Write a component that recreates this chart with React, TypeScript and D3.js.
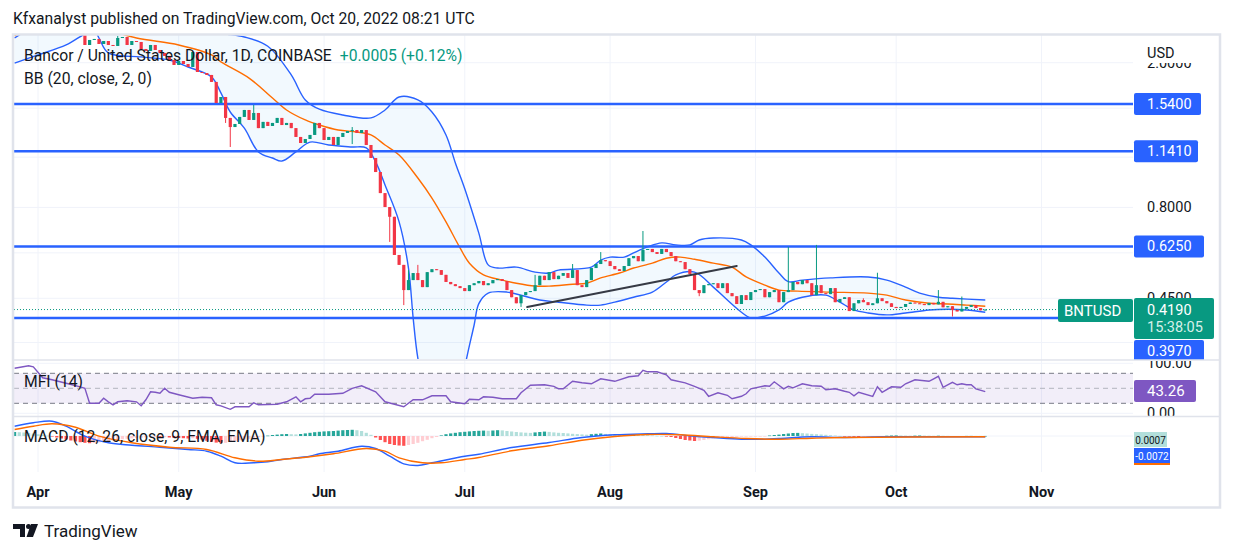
import React from 'react';
import * as d3 from 'd3';

// day numbers are counted from Apr 1 2022 (day 0)
const APR1 = Date.UTC(2022, 3, 1);
const DAY = 86400000;
const FIRST_DAY = -5;

// daily closes from Mar 27 to Oct 20
const closes = [
  2.52, 2.58, 2.61, 2.57, 2.64, 2.68, 2.62, 2.59, 2.55, 2.60, 2.54, 2.49, 2.51, 2.46, 2.42,
  2.238, 2.310, 2.325, 2.252, 2.295, 2.238, 2.224, 2.339, 2.354, 2.238,
  2.295, 2.281, 2.182, 2.155, 2.238, 2.168, 2.128, 2.088, 2.035, 1.972,
  2.022, 1.984, 1.947, 2.141, 1.886, 1.874, 1.851, 1.771, 1.550, 1.610,
  1.410, 1.331, 1.357, 1.419, 1.483, 1.392, 1.455, 1.322, 1.375, 1.340,
  1.366, 1.410, 1.348, 1.366, 1.322, 1.250, 1.203, 1.234, 1.266, 1.366,
  1.322, 1.226, 1.250, 1.188, 1.250, 1.282, 1.298, 1.306, 1.282, 1.306,
  1.188, 1.094, 1.001, 0.876, 0.802, 0.754, 0.592, 0.556, 0.474, 0.505,
  0.528, 0.505, 0.483, 0.531, 0.541, 0.538, 0.522, 0.499, 0.492, 0.486,
  0.480, 0.471, 0.489, 0.495, 0.502, 0.489, 0.495, 0.505, 0.508, 0.502,
  0.474, 0.453, 0.436, 0.459, 0.468, 0.471, 0.489, 0.519, 0.505, 0.531,
  0.508, 0.519, 0.528, 0.512, 0.538, 0.489, 0.483, 0.505, 0.545, 0.559,
  0.573, 0.569, 0.552, 0.541, 0.535, 0.552, 0.580, 0.588, 0.569, 0.611,
  0.615, 0.603, 0.596, 0.615, 0.603, 0.588, 0.569, 0.566, 0.541, 0.525,
  0.474, 0.465, 0.489, 0.492, 0.495, 0.480, 0.495, 0.465, 0.456, 0.434,
  0.459, 0.445, 0.468, 0.474, 0.477, 0.453, 0.468, 0.474, 0.439, 0.468,
  0.474, 0.499, 0.492, 0.505, 0.495, 0.459, 0.489, 0.465, 0.462, 0.480,
  0.439, 0.448, 0.453, 0.415, 0.436, 0.445, 0.439, 0.431, 0.436, 0.450,
  0.442, 0.436, 0.426, 0.423, 0.426, 0.434, 0.438, 0.436, 0.434, 0.431,
  0.437, 0.433, 0.440, 0.425, 0.428, 0.418, 0.414, 0.421, 0.426, 0.431,
  0.423, 0.417, 0.419,
];

// [day, high, low] for the candles with visible wicks
const wicks: [number, number | null, number | null][] = [
  [17, 2.37, null], [40, null, 1.366], [41, null, 1.173], [46, 1.531, null],
  [67, 1.331, 1.195], [75, null, 0.643], [78, null, 0.431], [79, 0.538, null],
  [81, 0.556, null], [103, null, 0.426], [106, 0.522, null], [114, 0.559, null],
  [120, 0.603, null], [129, 0.689, null], [141, null, 0.456], [160, 0.623, null],
  [166, 0.631, null], [176, 0.450, null], [179, 0.529, null], [192, 0.474, null],
  [195, null, 0.401], [197, 0.455, null],
];

const bbUpper: [number, number][] = [
  [-5, 2.339], [-2, 2.46], [5, 2.59], [24, 2.59], [34, 2.49], [39, 2.41], [44, 2.354],
  [49, 2.22], [54, 1.851], [57, 1.58], [60, 1.49], [65, 1.437], [71, 1.41], [74, 1.483],
  [77, 1.61], [81, 1.58], [84, 1.464], [87, 1.266], [89, 1.06], [91, 0.9], [94, 0.68],
  [96, 0.556], [98, 0.545], [102, 0.548], [106, 0.531], [109, 0.528], [111, 0.538],
  [118, 0.548], [120, 0.573], [122, 0.584], [125, 0.584], [127, 0.6], [130, 0.623],
  [133, 0.639], [136, 0.631], [139, 0.631], [141, 0.651], [144, 0.659], [150, 0.651],
  [152, 0.631], [155, 0.584], [158, 0.528], [160, 0.5], [163, 0.505], [169, 0.512],
  [177, 0.515], [181, 0.505], [185, 0.483], [188, 0.465], [192, 0.453], [195, 0.45],
  [202, 0.445],
];

const bbBasis: [number, number][] = [
  [-5, 2.37], [-3, 2.44], [5, 2.52], [13, 2.49], [21, 2.339], [30, 2.238], [37, 2.101],
  [39, 2.011], [45, 1.815], [50, 1.6], [53, 1.483], [57, 1.392], [60, 1.348], [64, 1.306],
  [68, 1.29], [71, 1.266], [74, 1.188], [77, 1.115], [81, 0.964], [84, 0.849], [87, 0.73],
  [90, 0.619], [92, 0.562], [95, 0.522], [99, 0.505], [102, 0.495], [106, 0.486],
  [109, 0.486], [114, 0.492], [117, 0.495], [120, 0.512], [124, 0.528], [127, 0.545],
  [131, 0.562], [134, 0.58], [137, 0.584], [140, 0.576], [144, 0.562], [148, 0.548],
  [151, 0.515], [155, 0.489], [158, 0.474], [162, 0.471], [169, 0.468], [177, 0.465],
  [181, 0.459], [185, 0.445], [190, 0.436], [194, 0.434], [198, 0.431], [202, 0.428],
];

const bbLower: [number, number][] = [
  [-5, 1.996], [0, 2.101], [6, 2.238], [10, 2.4], [12, 2.46], [13, 2.339], [15, 2.128],
  [22, 2.075], [28, 2.035], [32, 1.947], [37, 1.828], [39, 1.652], [41, 1.464], [44, 1.322],
  [47, 1.137], [50, 1.094], [52, 1.073], [55, 1.137], [58, 1.21], [62, 1.188], [67, 1.173],
  [70, 1.166], [72, 1.067], [74, 0.922], [77, 0.73], [79, 0.545], [80, 0.397], [81, 0.308],
  [83, 0.236], [87, 0.208], [90, 0.236], [91, 0.29], [93, 0.38], [94, 0.435], [96, 0.465],
  [100, 0.468], [107, 0.445], [111, 0.439], [117, 0.431], [120, 0.431], [123, 0.439],
  [127, 0.453], [131, 0.468], [134, 0.499], [136, 0.522], [140, 0.531], [144, 0.483],
  [147, 0.445], [150, 0.412], [152, 0.397], [155, 0.402], [158, 0.418], [160, 0.439],
  [163, 0.453], [168, 0.459], [171, 0.439], [174, 0.418], [177, 0.41], [181, 0.405],
  [185, 0.41], [190, 0.418], [194, 0.42], [198, 0.418], [202, 0.412],
];

const levels = [1.54, 1.141, 0.625, 0.397];
const priceTicks = [2, 1.5, 1.1, 0.8, 0.6, 0.45, 0.34];
// tick labels that the level boxes do not hide
const priceTickLabels = [2, 0.8, 0.45];
const lastPrice = 0.419;
const trendLine: [number, number][] = [[104.3, 0.426], [149, 0.552]];

const mfi: [number, number][] = [
  [-5, 90], [-2, 95], [-1, 93], [1, 71], [3, 67], [6, 60], [9, 53], [10, 50], [11, 20],
  [13, 20], [14, 30], [15, 23], [16, 17], [17, 23], [19, 25], [21, 23], [22, 15], [23, 27],
  [24, 43], [25, 42], [26, 40], [27, 50], [28, 42], [30, 37], [33, 30], [35, 32], [37, 31],
  [38, 17], [39, 15], [41, 8], [42, 13], [45, 13], [46, 21], [47, 17], [51, 18], [53, 23],
  [55, 33], [56, 23], [57, 29], [58, 30], [59, 38], [62, 38], [65, 40], [67, 50], [69, 55],
  [72, 43], [74, 23], [78, 13], [80, 27], [82, 27], [84, 35], [87, 35], [88, 23], [91, 19],
  [92, 28], [94, 27], [95, 33], [97, 32], [99, 29], [102, 29], [103, 41], [105, 56],
  [108, 57], [110, 54], [111, 49], [112, 49], [114, 64], [116, 61], [118, 59], [120, 69],
  [123, 64], [126, 73], [128, 75], [129, 86], [130, 83], [132, 83], [134, 77], [135, 67],
  [138, 61], [140, 54], [142, 46], [143, 34], [145, 41], [147, 36], [148, 29], [150, 34],
  [151, 39], [152, 49], [155, 55], [156, 54], [157, 63], [159, 49], [160, 54], [161, 51],
  [163, 59], [165, 55], [167, 54], [168, 47], [170, 49], [172, 44], [173, 42], [174, 35],
  [175, 42], [178, 34], [179, 53], [180, 42], [182, 53], [184, 52], [185, 59], [187, 67],
  [190, 64], [191, 69], [192, 74], [193, 52], [195, 62], [196, 57], [197, 59], [198, 57],
  [199, 57], [200, 49], [202, 43.26],
];
const mfiLevels = [80, 50, 20];

const macdLine: [number, number][] = [
  [-5, 0.098], [-1, 0.132], [3, 0.148], [6, 0.098], [10, -0.002], [15, -0.068], [20, -0.092],
  [26, -0.112], [32, -0.135], [36, -0.152], [39, -0.202], [42, -0.268], [46, -0.268],
  [49, -0.258], [52, -0.235], [58, -0.202], [60, -0.178], [64, -0.152], [69, -0.102],
  [72, -0.125], [75, -0.202], [78, -0.278], [81, -0.295], [84, -0.268], [91, -0.202],
  [94, -0.182], [101, -0.115], [109, -0.065], [116, -0.015], [123, 0.012], [130, 0.022],
  [134, 0.025], [140, -0.002], [144, -0.015], [150, -0.032], [155, -0.032], [158, -0.025],
  [165, -0.008], [172, -0.015], [180, -0.008], [187, -0.008], [202, -0.0072],
];

const signalLine: [number, number][] = [
  [-5, 0.065], [-1, 0.098], [3, 0.122], [8, 0.088], [13, -0.002], [20, -0.068], [28, -0.112],
  [36, -0.135], [42, -0.218], [47, -0.252], [52, -0.235], [58, -0.208], [63, -0.178],
  [70, -0.125], [74, -0.152], [77, -0.218], [82, -0.268], [86, -0.268], [91, -0.235],
  [94, -0.215], [101, -0.148], [109, -0.098], [116, -0.042], [123, -0.005], [130, 0.015],
  [137, 0.012], [144, -0.008], [151, -0.025], [158, -0.032], [165, -0.022], [172, -0.015],
  [202, -0.0079],
];

// daily histogram from Mar 27
const macdHist = [
  0.040, 0.038, 0.035, 0.030, 0.024, 0.018, 0.010, 0.003, -0.006, -0.015,
  -0.025, -0.035, -0.045, -0.055, -0.062, -0.068, -0.072, -0.070, -0.064, -0.058,
  -0.050, -0.044, -0.038, -0.032, -0.028, -0.024, -0.020, -0.018, -0.015, -0.013,
  -0.012, -0.014, -0.012, -0.015, -0.018, -0.020, -0.022, -0.025, -0.022, -0.028,
  -0.035, -0.048, -0.058, -0.066, -0.072, -0.068, -0.060, -0.052, -0.044, -0.036,
  -0.028, -0.020, -0.012, -0.005, 0.004, 0.010, 0.014, 0.018, 0.020, 0.018,
  0.016, 0.020, 0.026, 0.032, 0.038, 0.042, 0.046, 0.048, 0.050, 0.054,
  0.058, 0.060, 0.062, 0.058, 0.050, 0.032, 0.012, -0.015, -0.040, -0.062,
  -0.080, -0.090, -0.095, -0.098, -0.090, -0.080, -0.068, -0.052, -0.038, -0.022,
  -0.010, 0.006, 0.018, 0.026, 0.032, 0.038, 0.042, 0.046, 0.050, 0.052,
  0.054, 0.052, 0.055, 0.058, 0.056, 0.050, 0.045, 0.040, 0.036, 0.033,
  0.031, 0.036, 0.040, 0.044, 0.041, 0.036, 0.032, 0.030, 0.026, 0.022,
  0.019, 0.016, 0.013, 0.018, 0.022, 0.025, 0.021, 0.018, 0.015, 0.012,
  0.010, 0.012, 0.014, 0.012, 0.010, 0.008, 0.005, 0.002, 0.000, -0.004,
  -0.010, -0.020, -0.030, -0.040, -0.045, -0.050, -0.046, -0.040, -0.032, -0.025,
  -0.020, -0.017, -0.014, -0.010, -0.008, -0.006, -0.005, -0.004, -0.003, -0.002,
  -0.001, 0.005, 0.010, 0.014, 0.020, 0.025, 0.030, 0.031, 0.028, 0.025,
  0.021, 0.018, 0.015, 0.012, 0.008, 0.005, 0.001, -0.003, -0.005, -0.008,
  -0.010, -0.008, -0.006, -0.004, -0.002, 0.000, 0.003, 0.005, 0.006, 0.005,
  0.004, 0.003, 0.004, 0.005, 0.004, 0.003, 0.002, 0.003, 0.002, 0.001,
  0.000, -0.001, 0.000, 0.001, 0.001, 0.0008, 0.0007, 0.0007,
];

const FONT = "Roboto, 'Noto Sans', sans-serif";
const UP = '#089981';
const DOWN = '#f23645';
const BLUE = '#2962ff';
const GRID = '#f0f3fa';
const BORDER = '#e0e3eb';
const TEXT = '#131722';

const W = 1233;
const H = 554;
const plotL = 14;
const plotR = 1133;
const mainT = 35;
const mainB = 359;
const mfiT = 361;
const mfiB = 416;
const macdT = 417;
const macdB = 472;
const axisX = 1147;

const dayDate = (d: number) => new Date(APR1 + d * DAY);

const App: React.FC = () => {
  const x = d3.scaleUtc()
    .domain([dayDate(-5.12), dayDate(233.5)])
    .range([plotL, plotR]);
  const y = d3.scaleLog().domain([0.3083, 2.384]).range([358, 35]);
  const yMfi = d3.scaleLinear().domain([0, 100]).range([413.3, 363.3]);
  const yMacd = d3.scaleLinear().domain([-0.34, 0.2]).range([470, 416]);

  const priceLine = d3.line<[number, number]>()
    .x(d => x(dayDate(d[0])))
    .y(d => y(d[1]))
    .curve(d3.curveCatmullRom.alpha(0.5));
  const mfiPath = d3.line<[number, number]>()
    .x(d => x(dayDate(d[0])))
    .y(d => yMfi(d[1]))
    .curve(d3.curveLinear);
  const macdPath = d3.line<[number, number]>()
    .x(d => x(dayDate(d[0])))
    .y(d => yMacd(d[1]))
    .curve(d3.curveCatmullRom.alpha(0.5));

  const bandFill = `${priceLine(bbUpper)}L${(priceLine([...bbLower].reverse()) || '').slice(1)}Z`;

  const wickMap = new Map(wicks.map(w => [w[0], w]));
  const candles = closes.map((c, i) => {
    const day = FIRST_DAY + i;
    const o = i > 0 ? closes[i - 1] : c;
    const w = wickMap.get(day);
    const hi = w && w[1] != null ? w[1] : Math.max(o, c);
    const lo = w && w[2] != null ? w[2] : Math.min(o, c);
    return { day, o, c, hi, lo };
  });

  const months = d3.utcMonth.range(new Date(Date.UTC(2022, 3, 1)), new Date(Date.UTC(2022, 10, 2)));
  const fmtMonth = d3.utcFormat('%b');

  const boxLabel = (val: string, yc: number, w: number, fill: string) => (
    <g key={val}>
      <rect x={plotR + 1} y={yc - 11} width={w} height={22} rx={2} fill={fill} />
      <text x={axisX} y={yc + 5} fill="#fff" fontSize={14.5}>{val}</text>
    </g>
  );

  return (
    <svg
      width={W}
      height={H}
      style={{ position: 'absolute', left: 0, top: 0, background: '#fff' }}
      fontFamily={FONT}
    >
      <defs>
        <clipPath id="clipMain"><rect x={plotL} y={mainT} width={plotR - plotL} height={mainB - mainT} /></clipPath>
        <clipPath id="clipMfi"><rect x={plotL} y={mfiT} width={W - plotL} height={mfiB - mfiT} /></clipPath>
        <clipPath id="clipMacd"><rect x={plotL} y={macdT} width={plotR - plotL} height={macdB - macdT} /></clipPath>
        <clipPath id="clipAxis"><rect x={plotR} y={mainT} width={90} height={mainB + 1 - mainT} /></clipPath>
      </defs>
      <rect width={W} height={H} fill="#fff" />

      <text x={13} y={24} fontSize={15.7} fill={TEXT}>
        Kfxanalyst published on TradingView.com, Oct 20, 2022 08:21 UTC
      </text>

      {/* grid */}
      {months.map(m => (
        <line key={+m} x1={x(m)} x2={x(m)} y1={mainT} y2={macdB} stroke={GRID} strokeWidth={1} />
      ))}
      {priceTicks.map(p => (
        <line key={p} x1={plotL} x2={plotR} y1={y(p)} y2={y(p)} stroke={GRID} strokeWidth={1} />
      ))}
      <line x1={plotL} x2={plotR} y1={yMfi(100)} y2={yMfi(100)} stroke={GRID} />
      <line x1={plotL} x2={plotR} y1={yMfi(0)} y2={yMfi(0)} stroke={GRID} />
      <line x1={plotL} x2={plotR} y1={yMacd(0)} y2={yMacd(0)} stroke={GRID} />

      {/* main pane */}
      <g clipPath="url(#clipMain)">
        <path d={bandFill} fill="rgba(33,150,243,0.06)" stroke="none" />
        <path d={priceLine(bbUpper) || ''} fill="none" stroke={BLUE} strokeWidth={1.4} />
        <path d={priceLine(bbLower) || ''} fill="none" stroke={BLUE} strokeWidth={1.4} />
        <path d={priceLine(bbBasis) || ''} fill="none" stroke="#ff6d00" strokeWidth={1.4} />
        {levels.map(p => (
          <line key={p} x1={plotL} x2={plotR} y1={y(p)} y2={y(p)} stroke={BLUE} strokeWidth={2.5} />
        ))}
        <line x1={plotL} x2={1057} y1={y(lastPrice)} y2={y(lastPrice)} stroke={UP} strokeWidth={1} strokeDasharray="1 2" />
        {candles.map(k => {
          const cx = x(dayDate(k.day));
          const col = k.c >= k.o ? UP : DOWN;
          const top = y(Math.max(k.o, k.c));
          const bot = y(Math.min(k.o, k.c));
          return (
            <g key={k.day}>
              <line x1={cx} x2={cx} y1={y(k.hi)} y2={y(k.lo)} stroke={col} strokeWidth={1} />
              <rect x={cx - 1.6} y={top} width={3.2} height={Math.max(1, bot - top)} fill={col} />
            </g>
          );
        })}
        <line
          x1={x(dayDate(trendLine[0][0]))} y1={y(trendLine[0][1])}
          x2={x(dayDate(trendLine[1][0]))} y2={y(trendLine[1][1])}
          stroke="#363a45" strokeWidth={2} strokeLinecap="round"
        />
      </g>
      <text x={24} y={61} fontSize={15.7} fill={TEXT}>
        Bancor / United States Dollar, 1D, COINBASE
        <tspan dx={8} fill={UP}>+0.0005 (+0.12%)</tspan>
      </text>
      <text x={24} y={84} fontSize={15.7} fill={TEXT}>BB (20, close, 2, 0)</text>

      {/* MFI pane */}
      <g clipPath="url(#clipMfi)">
        <rect x={plotL} y={yMfi(80)} width={plotR - plotL} height={yMfi(20) - yMfi(80)} fill="rgba(126,87,194,0.1)" />
        {mfiLevels.map(l => (
          <line key={l} x1={plotL} x2={plotR} y1={yMfi(l)} y2={yMfi(l)}
            stroke={l === 50 ? '#b2b5be' : '#787b86'} strokeWidth={1} strokeDasharray="5 4" />
        ))}
        <path d={mfiPath(mfi) || ''} fill="none" stroke="#7e57c2" strokeWidth={1.4} />
        <text x={axisX} y={yMfi(100) + 5} fontSize={14.5} fill={TEXT}>100.00</text>
        <text x={axisX} y={yMfi(0) + 5} fontSize={14.5} fill={TEXT}>0.00</text>
      </g>
      <text x={24} y={387} fontSize={15.7} fill={TEXT}>MFI (14)</text>
      <rect x={plotR + 1} y={380} width={62} height={22} rx={2} fill="#7e57c2" />
      <text x={axisX} y={396} fontSize={15} fill="#fff">43.26</text>

      {/* MACD pane */}
      <g clipPath="url(#clipMacd)">
        {macdHist.map((v, i) => {
          const prev = i > 0 ? macdHist[i - 1] : v;
          const col = v >= 0 ? (v >= prev ? '#26a69a' : '#b2dfdb') : (v <= prev ? '#ff5252' : '#ffcdd2');
          const cx = x(dayDate(FIRST_DAY + i));
          const y0 = yMacd(0);
          const y1 = yMacd(v);
          return (
            <rect key={i} x={cx - 1.6} y={Math.min(y0, y1)} width={3.2}
              height={Math.max(0.6, Math.abs(y1 - y0))} fill={col} />
          );
        })}
        <path d={macdPath(macdLine) || ''} fill="none" stroke={BLUE} strokeWidth={1.4} />
        <path d={macdPath(signalLine) || ''} fill="none" stroke="#ff6d00" strokeWidth={1.4} />
      </g>
      <text x={24} y={442} fontSize={15.7} fill={TEXT}>MACD (12, 26, close, 9, EMA, EMA)</text>
      <rect x={plotR + 1} y={449} width={36} height={16} fill="#ff6d00" />
      <rect x={plotR + 1} y={432} width={33} height={15} fill="#b2dfdb" />
      <text x={plotR + 17.5} y={443.5} fontSize={10} fill={TEXT} textAnchor="middle">0.0007</text>
      <rect x={plotR + 1} y={448} width={36} height={15} fill={BLUE} />
      <text x={plotR + 19} y={459.5} fontSize={10} fill="#fff" textAnchor="middle">-0.0072</text>

      {/* price axis */}
      {priceTickLabels.map(p => (
        <text key={p} x={axisX} y={y(p) + 5} fontSize={14.5} fill={TEXT}>{p.toFixed(4)}</text>
      ))}
      <rect x={plotR + 1} y={36} width={85} height={27} fill="#fff" />
      <text x={axisX} y={58} fontSize={14.5} fill={TEXT}>USD</text>
      {boxLabel('1.5400', y(1.54), 67, BLUE)}
      {boxLabel('1.1410', y(1.141), 64, BLUE)}
      {boxLabel('0.6250', y(0.625), 70, BLUE)}
      <g clipPath="url(#clipAxis)">
        <rect x={plotR + 1} y={340} width={70} height={22} rx={2} fill={BLUE} />
        <text x={axisX} y={356} fontSize={14.5} fill="#fff">0.3970</text>
      </g>
      <rect x={1058} y={299} width={75} height={23} rx={2} fill={UP} />
      <text x={1064} y={315.5} fontSize={15} fill="#fff">BNTUSD</text>
      <rect x={plotR + 1} y={298} width={80} height={41} rx={2} fill={UP} />
      <text x={axisX} y={315} fontSize={14.5} fill="#fff">0.4190</text>
      <text x={axisX} y={332} fontSize={14.5} fill="#d7f0ea">15:38:05</text>

      {/* time axis */}
      {months.map(m => (
        <text key={+m} x={x(m)} y={497} fontSize={14.5} fontWeight="bold" fill={TEXT} textAnchor="middle">
          {fmtMonth(m)}
        </text>
      ))}

      {/* frame and pane separators */}
      <line x1={13} x2={1220} y1={360} y2={360} stroke={BORDER} strokeWidth={1.5} />
      <line x1={13} x2={1220} y1={416.5} y2={416.5} stroke={BORDER} strokeWidth={1.5} />
      <rect x={13} y={34.5} width={1207} height={473} fill="none" stroke={BORDER} strokeWidth={2.5} />

      {/* footer */}
      <g fill={TEXT}>
        <path d="M13 524 H25 V537 H20 V529 H13 Z" />
        <circle cx={28.5} cy={526.5} r={2.5} />
        <path d="M31 524 H38 L33 537 H26.5 Z" />
      </g>
      <text x={44} y={537} fontSize={17} fill={TEXT}>TradingView</text>
    </svg>
  );
};

export default App;
